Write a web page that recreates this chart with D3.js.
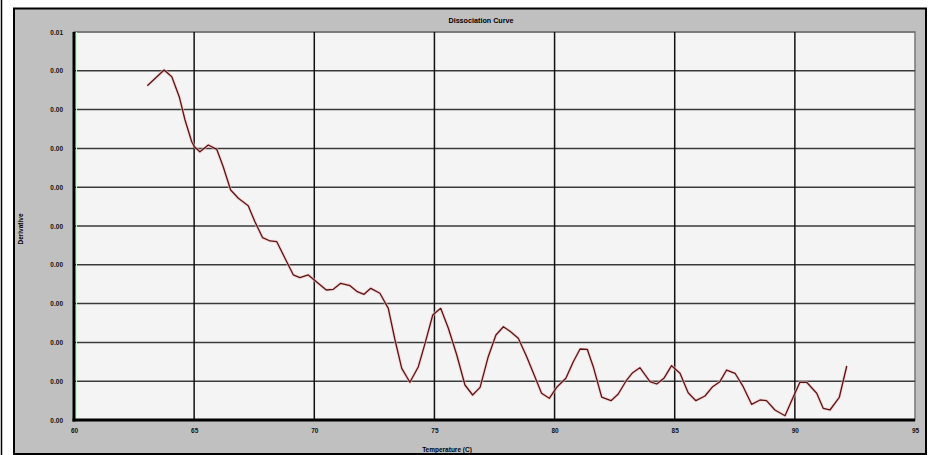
<!DOCTYPE html>
<html>
<head>
<meta charset="utf-8">
<script src="https://cdn.jsdelivr.net/npm/d3@7"></script>
<style>
  html, body { margin: 0; padding: 0; background: #ffffff; }
  svg { display: block; font-family: "Liberation Sans", Arial, sans-serif; }
</style>
</head>
<body>
<svg id="chart" width="940" height="455"></svg>
<script>
// Melt-curve derivative readings: temperature (°C) and derivative value
const temperature = [
  63.05, 63.75, 64.07, 64.38, 64.62, 64.90, 65.01, 65.24, 65.59, 65.94,
  66.21, 66.52, 66.84, 67.25, 67.53, 67.85, 68.16, 68.44, 68.78, 69.13,
  69.40, 69.75, 70.10, 70.50, 70.79, 71.10, 71.49, 71.79, 72.07, 72.35,
  72.73, 73.08, 73.36, 73.64, 73.98, 74.33, 74.61, 74.93, 75.26, 75.58,
  75.93, 76.27, 76.59, 76.90, 77.24, 77.56, 77.87, 78.17, 78.49, 78.84,
  79.18, 79.46, 79.78, 80.11, 80.47, 80.78, 81.06, 81.36, 81.61, 81.96,
  82.35, 82.65, 83.00, 83.25, 83.55, 83.97, 84.25, 84.55, 84.87, 85.22,
  85.56, 85.88, 86.26, 86.58, 86.88, 87.16, 87.51, 87.85, 88.20, 88.55,
  88.82, 89.17, 89.59, 89.91, 90.21, 90.49, 90.91, 91.18, 91.46, 91.85,
  92.16
];
const derivative = [
  0.004308, 0.004510, 0.004424, 0.004166, 0.003866, 0.003586, 0.003522, 0.003457, 0.003544, 0.003488,
  0.003264, 0.002964, 0.002857, 0.002762, 0.002555, 0.002349, 0.002307, 0.002298, 0.002084, 0.001869,
  0.001834, 0.001869, 0.001778, 0.001675, 0.001684, 0.001762, 0.001731, 0.001653, 0.001620, 0.001697,
  0.001633, 0.001439, 0.001031, 0.000666, 0.000486, 0.000687, 0.000988, 0.001353, 0.001439, 0.001182,
  0.000838, 0.000451, 0.000322, 0.000421, 0.000816, 0.001095, 0.001202, 0.001138, 0.001053, 0.000816,
  0.000558, 0.000344, 0.000280, 0.000429, 0.000537, 0.000751, 0.000915, 0.000911, 0.000687, 0.000296,
  0.000249, 0.000335, 0.000515, 0.000610, 0.000674, 0.000494, 0.000464, 0.000537, 0.000700, 0.000602,
  0.000352, 0.000249, 0.000309, 0.000429, 0.000494, 0.000644, 0.000602, 0.000429, 0.000202, 0.000258,
  0.000249, 0.000129, 0.000055, 0.000280, 0.000486, 0.000486, 0.000344, 0.000151, 0.000129, 0.000293,
  0.000696
];

// Axis ticks and their labels
const xTicks = [60, 65, 70, 75, 80, 85, 90, 95];
const yTicks = [0, 0.0005, 0.001, 0.0015, 0.002, 0.0025, 0.003, 0.0035, 0.004, 0.0045, 0.005];
const yTickLabels = ["0.00", "0.00", "0.00", "0.00", "0.00", "0.00", "0.00", "0.00", "0.00", "0.00", "0.01"];

const chartTitle = "Dissociation Curve";
const xTitle = "Temperature (C)";
const yTitle = "Derivative";

const svg = d3.select("#chart");
const plot = { left: 74, top: 32, right: 915, bottom: 420 };

const x = d3.scaleLinear().domain([60, 95]).range([plot.left, plot.right]);
const y = d3.scaleLinear().domain([0, 0.005]).range([plot.bottom, plot.top]);

// Left edge rule
svg.append("line")
  .attr("x1", 1.5).attr("x2", 1.5).attr("y1", 0).attr("y2", 455)
  .attr("stroke", "#000").attr("stroke-width", 1.5);

// Gray chart panel
svg.append("rect")
  .attr("x", 14).attr("y", 8.5).attr("width", 912).attr("height", 445.5)
  .attr("fill", "#c0c0c0").attr("stroke", "#000").attr("stroke-width", 2);

// Plot area
svg.append("rect")
  .attr("x", plot.left).attr("y", plot.top)
  .attr("width", plot.right - plot.left).attr("height", plot.bottom - plot.top)
  .attr("fill", "#f4f4f4").attr("stroke", "#777").attr("stroke-width", 1.5);

// Horizontal grid
svg.append("g")
  .selectAll("line").data(yTicks.slice(1)).join("line")
  .attr("x1", plot.left).attr("x2", plot.right)
  .attr("y1", d => y(d)).attr("y2", d => y(d))
  .attr("stroke", d => d === 0.005 ? "#777" : "#3a3a3a").attr("stroke-width", 1.5);

// Vertical grid
svg.append("g")
  .selectAll("line").data(xTicks.slice(1, -1)).join("line")
  .attr("x1", d => x(d)).attr("x2", d => x(d))
  .attr("y1", plot.top).attr("y2", plot.bottom)
  .attr("stroke", "#111").attr("stroke-width", 1.5);

// Faint green line just inside the y axis
svg.append("line")
  .attr("x1", plot.left + 2.5).attr("x2", plot.left + 2.5)
  .attr("y1", plot.top).attr("y2", plot.bottom)
  .attr("stroke", "#d2f5d2").attr("stroke-width", 1);

// Axes with heavy black baselines
const xAxis = d3.axisBottom(x).tickValues(xTicks).tickSize(0).tickPadding(8).tickFormat(d3.format("d"));
const gx = svg.append("g").attr("transform", `translate(0,${plot.bottom})`).call(xAxis);
gx.select(".domain").attr("stroke", "#000").attr("stroke-width", 3).attr("d", `M${plot.left - 1.5},0H${plot.right}`);
gx.selectAll("text")
  .attr("font-size", 6.5).attr("font-weight", "bold").attr("fill", "#111")
  .attr("font-family", "'Liberation Sans', Arial, sans-serif");

const yAxis = d3.axisLeft(y).tickValues(yTicks).tickSize(0).tickPadding(11)
  .tickFormat((d, i) => yTickLabels[i]);
const gy = svg.append("g").attr("transform", `translate(${plot.left},0)`).call(yAxis);
gy.select(".domain").attr("stroke", "#000").attr("stroke-width", 3).attr("d", `M0,${plot.top}V${plot.bottom + 1.5}`);
gy.selectAll("text")
  .attr("font-size", 6.5).attr("font-weight", "bold").attr("fill", "#111")
  .attr("font-family", "'Liberation Sans', Arial, sans-serif");

// Derivative curve
const points = temperature.map((t, i) => [t, derivative[i]]);
const line = d3.line().x(d => x(d[0])).y(d => y(d[1]));

svg.append("path")
  .datum(points)
  .attr("d", line)
  .attr("fill", "none")
  .attr("stroke", "#f2c4c4").attr("stroke-width", 3.2).attr("stroke-opacity", 0.6)
  .attr("stroke-linejoin", "round");

svg.append("path")
  .datum(points)
  .attr("d", line)
  .attr("fill", "none")
  .attr("stroke", "#5c1212").attr("stroke-width", 1.3)
  .attr("stroke-linejoin", "round");

// Titles
svg.append("text")
  .attr("x", 481).attr("y", 22.5)
  .attr("text-anchor", "middle")
  .attr("font-size", 7.2).attr("font-weight", "bold").attr("fill", "#000")
  .text(chartTitle);

svg.append("text")
  .attr("x", 447).attr("y", 452)
  .attr("text-anchor", "middle")
  .attr("font-size", 6.5).attr("font-weight", "bold").attr("fill", "#000")
  .text(xTitle);

svg.append("text")
  .attr("transform", "translate(22.5,229) rotate(-90)")
  .attr("text-anchor", "middle")
  .attr("font-size", 6.5).attr("font-weight", "bold").attr("fill", "#000")
  .text(yTitle);
</script>
</body>
</html>
